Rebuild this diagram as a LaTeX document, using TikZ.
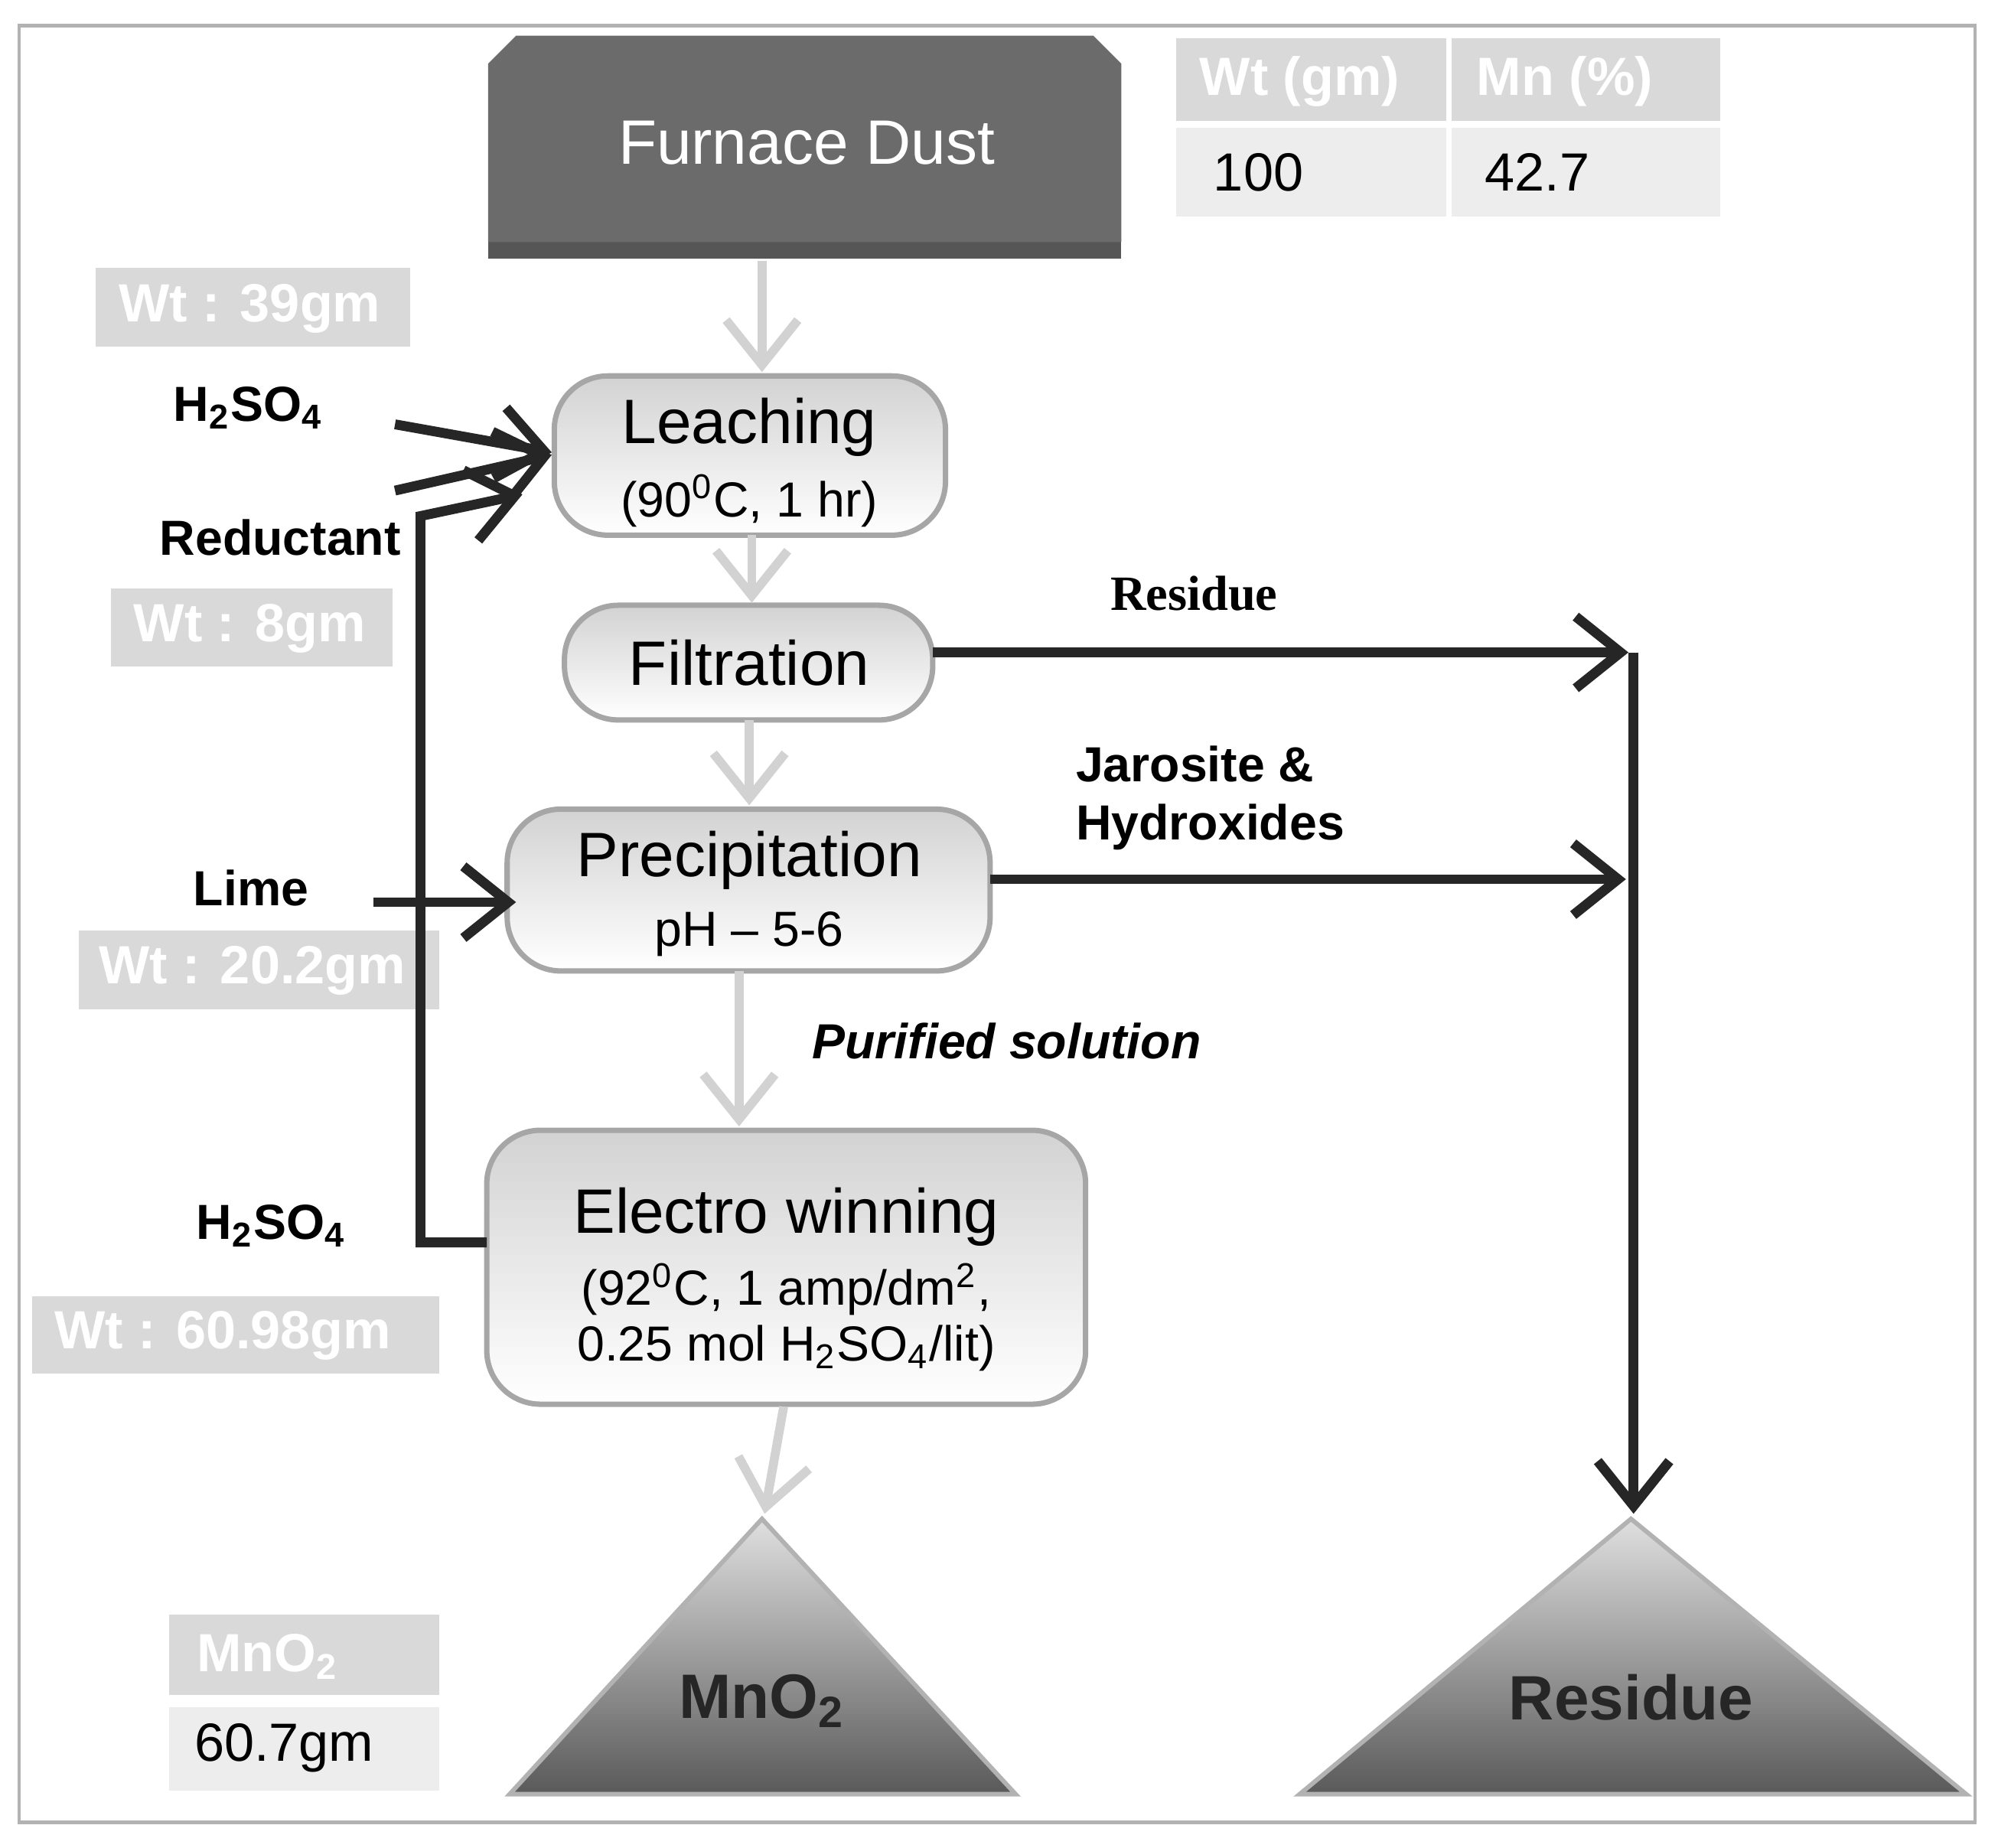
\documentclass[tikz,border=0pt]{standalone}
\usepackage{fontspec}
\setmainfont{Liberation Sans}
\usetikzlibrary{arrows.meta}
\definecolor{dk}{gray}{0.42}
\definecolor{lg}{gray}{0.85}
\definecolor{vlg}{gray}{0.93}
\newcommand{\sbs}[1]{\textsubscript{#1}}
\tikzset{
 box/.style={draw=gray!70,line width=1.2pt,rounded corners=12pt,top color=gray!35,bottom color=white},
 wt/.style={text=white,font=\fontsize{12}{14}\selectfont\bfseries},
 lab/.style={font=\fontsize{11}{13}\selectfont\bfseries},
 big/.style={font=\fontsize{14}{16}\selectfont},
 sml/.style={font=\fontsize{11}{13}\selectfont},
 garr/.style={draw=gray!35,line width=2pt,-{Straight Barb[length=10pt,width=16pt,line width=2pt]}},
 barr/.style={draw=black!85,line width=2.2pt,-{Straight Barb[length=10pt,width=16pt,line width=2.2pt]}},
}
\begin{document}
\begin{tikzpicture}[x=0.01cm,y=-0.01cm]
\useasboundingbox (0,0) rectangle (1568,1450);
\draw[gray!60,line width=0.8pt] (15,20) rectangle (1550,1430);
% furnace dust
\fill[dk!80!black] (383,190) rectangle (880,203);
\fill[dk] (383,190) -- (383,50) -- (405,28) -- (858,28) -- (880,50) -- (880,190) -- cycle;
\node[text=white,big] (fd) at (633,112) {Furnace Dust};
% table
\fill[lg] (923,30) rectangle (1135,95); \fill[lg] (1139,30) rectangle (1350,95);
\fill[vlg] (923,100) rectangle (1135,170); \fill[vlg] (1139,100) rectangle (1350,170);
\node[wt] (t1) at (1020,64) {Wt (gm)};
\node[wt] (t2) at (1228,64) {Mn (\%)};
\node[font=\fontsize{12}{14}\selectfont,anchor=west] (t3) at (940,135) {100};
\node[font=\fontsize{12}{14}\selectfont,anchor=west] (t4) at (1153,135) {42.7};
% tags
\fill[lg] (75,210) rectangle (322,272); \node[wt] (w1) at (196,242) {Wt : 39gm};
\fill[lg] (87,462) rectangle (308,523); \node[wt] (w2) at (196,493) {Wt : 8gm};
\fill[lg] (62,730) rectangle (345,792); \node[wt] (w3) at (198,762) {Wt : 20.2gm};
\fill[lg] (25,1017) rectangle (345,1078); \node[wt] (w4) at (175,1048) {Wt : 60.98gm};
\fill[lg] (133,1267) rectangle (345,1330); \node[wt] (m1) at (210,1300) {MnO\sbs{2}};
\fill[vlg] (133,1340) rectangle (345,1405); \node[font=\fontsize{12}{14}\selectfont] (m2) at (223,1372) {60.7gm};
% labels
\node[lab] (h1) at (195,320) {H\sbs{2}SO\sbs{4}};
\node[lab] (rd) at (220,422) {Reductant};
\node[lab] (li) at (197,697) {Lime};
\node[lab] (h2) at (213,962) {H\sbs{2}SO\sbs{4}};
% boxes
\draw[box] (435,295) rectangle (742,420);
\node[big] (le1) at (588,335) {Leaching};
\node[sml] (le2) at (588,393) {(90\textsuperscript{0}C, 1 hr)};
\draw[box] (443,475) rectangle (732,565);
\node[big] (fi) at (588,520) {Filtration};
\draw[box] (398,635) rectangle (777,762);
\node[big] (pr1) at (588,675) {Precipitation};
\node[sml] (pr2) at (588,733) {pH -- 5-6};
\draw[box] (382,887) rectangle (852,1102);
\node[big] (el1) at (617,955) {Electro winning};
\node[sml] (el2) at (617,1012) {(92\textsuperscript{0}C, 1 amp/dm\textsuperscript{2},};
\node[sml] (el3) at (617,1058) {0.25 mol H\sbs{2}SO\sbs{4}/lit)};
% triangles
\shade[top color=gray!25,bottom color=gray!70!black,draw=gray!60,line width=1pt] (598,1192) -- (797,1408) -- (400,1408) -- cycle;
\shade[top color=gray!25,bottom color=gray!70!black,draw=gray!60,line width=1pt] (1280,1192) -- (1543,1408) -- (1020,1408) -- cycle;
\node[font=\fontsize{14}{16}\selectfont\bfseries,text=black!85] (mn) at (598,1335) {MnO\sbs{2}};
\node[font=\fontsize{14}{16}\selectfont\bfseries,text=black!85] (re) at (1280,1332) {Residue};
% grey arrows
\draw[garr] (598,205) -- (598,292);
\draw[garr] (590,420) -- (590,473);
\draw[garr] (588,565) -- (588,632);
\draw[garr] (580,762) -- (580,884);
\draw[garr] (615,1104) -- (600,1188);
% black arrows
\draw[barr] (310,333) -- (433,355);
\draw[barr] (310,385) -- (433,357);
\draw[barr] (382,975) -- (330,975) -- (330,405) -- (410,388);
\draw[barr] (293,708) -- (405,708);
\draw[barr] (732,512) -- (1278,512);
\draw[barr] (777,690) -- (1276,690);
\draw[barr] (1282,512) -- (1282,1188);
\node[font=\fontsize{11}{13}\selectfont\bfseries] (rl) at (937,466) {\fontspec{Liberation Serif}Residue};
\node[lab,anchor=west,align=left] (ja) at (832,626) {Jarosite \&\\Hydroxides};
\node[font=\fontsize{11}{13}\selectfont\bfseries\itshape] (ps) at (790,817) {Purified solution};
\end{tikzpicture}
\end{document}
